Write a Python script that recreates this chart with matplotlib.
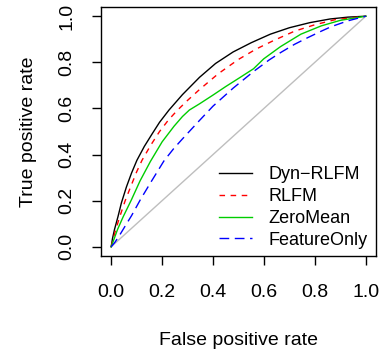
import matplotlib
matplotlib.use("Agg")
import matplotlib.pyplot as plt

plt.rcParams['font.family'] = ['Liberation Sans', 'DejaVu Sans']

labels = ["Dyn\u2212RLFM", "RLFM", "ZeroMean", "FeatureOnly"]

dyn_x = [0, 0.005, 0.013, 0.027, 0.040, 0.060, 0.080, 0.101, 0.130, 0.161, 0.190, 0.227, 0.280,
         0.347, 0.410, 0.479, 0.550, 0.625, 0.700, 0.780, 0.860, 0.930, 1.0]
dyn_y = [0, 0.035, 0.075, 0.132, 0.190, 0.260, 0.320, 0.375, 0.435, 0.490, 0.540, 0.593, 0.660,
         0.735, 0.795, 0.845, 0.885, 0.922, 0.950, 0.972, 0.988, 0.996, 1.0]

rlfm_x = [0, 0.008, 0.018, 0.033, 0.055, 0.080, 0.100, 0.121, 0.155, 0.190, 0.225, 0.260, 0.300,
          0.347, 0.420, 0.499, 0.570, 0.639, 0.720, 0.800, 0.880, 1.0]
rlfm_y = [0, 0.035, 0.075, 0.128, 0.200, 0.270, 0.325, 0.375, 0.440, 0.500, 0.550, 0.592, 0.635,
          0.682, 0.750, 0.812, 0.858, 0.895, 0.935, 0.963, 0.985, 1.0]

zero_x = [0, 0.010, 0.025, 0.047, 0.080, 0.113, 0.154, 0.200, 0.247, 0.280, 0.307, 0.347, 0.400,
          0.450, 0.500, 0.559, 0.599, 0.665, 0.745, 0.825, 0.900, 1.0]
zero_y = [0, 0.030, 0.075, 0.130, 0.205, 0.285, 0.370, 0.455, 0.523, 0.565, 0.593, 0.620, 0.658,
          0.695, 0.730, 0.772, 0.815, 0.868, 0.922, 0.958, 0.982, 1.0]

feat_x = [0, 0.015, 0.033, 0.055, 0.080, 0.115, 0.153, 0.207, 0.245, 0.280, 0.347, 0.400, 0.479,
          0.559, 0.620, 0.665, 0.720, 0.772, 0.825, 0.865, 0.930, 1.0]
feat_y = [0, 0.020, 0.050, 0.090, 0.135, 0.205, 0.275, 0.372, 0.425, 0.468, 0.548, 0.610, 0.688,
          0.760, 0.810, 0.842, 0.878, 0.907, 0.935, 0.955, 0.980, 1.0]

ticks = [0.0, 0.2, 0.4, 0.6, 0.8, 1.0]
tick_labels = ["0.0", "0.2", "0.4", "0.6", "0.8", "1.0"]

fig = plt.figure(figsize=(3.79, 3.49), dpi=100)
ax = fig.add_axes([0.2665, 0.2665, 0.7255, 0.7135])

ax.plot([0, 1], [0, 1], color="#BEBEBE", lw=1.0)
ax.plot(dyn_x, dyn_y, color="black", lw=1.0, label=labels[0])
ax.plot(rlfm_x, rlfm_y, color="red", lw=1.0, dashes=(4, 4), label=labels[1])
ax.plot(zero_x, zero_y, color="#00CD00", lw=1.0, label=labels[2])
ax.plot(feat_x, feat_y, color="blue", lw=1.0, dashes=(7, 4), label=labels[3])

ax.set_xlim(-0.04, 1.04)
ax.set_ylim(-0.04, 1.04)
ax.set_xticks(ticks)
ax.set_xticklabels(tick_labels)
ax.set_yticks(ticks)
ax.set_yticklabels(tick_labels, rotation=90, va="center")
ax.tick_params(axis="both", length=6.5, width=1.0, labelsize=14)
ax.tick_params(axis="x", pad=14)
ax.tick_params(axis="y", pad=12)
for s in ax.spines.values():
    s.set_linewidth(1.0)

ax.set_xlabel("False positive rate", fontsize=14, labelpad=22)
ax.set_ylabel("True positive rate", fontsize=14, labelpad=15)

ax.legend(loc="lower right", frameon=False, fontsize=13, handlelength=1.8,
          handletextpad=0.9, labelspacing=0.27, borderaxespad=0.0,
          bbox_to_anchor=(0.995, 0.0))

fig.savefig("out.png", dpi=100)
